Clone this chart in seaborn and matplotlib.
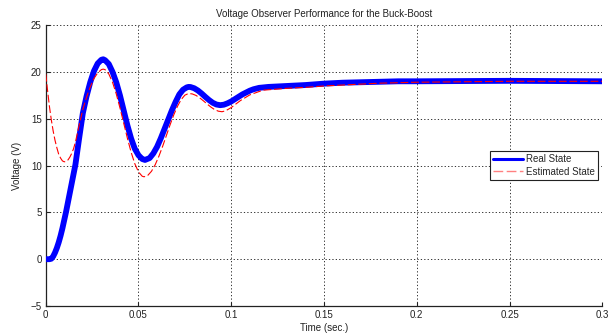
import matplotlib
matplotlib.use("Agg")
import matplotlib.pyplot as plt
import seaborn as sns
import pandas as pd

# ---- data ----
t_real = [0.000, 0.001, 0.002, 0.003, 0.004, 0.005, 0.006, 0.007, 0.008, 0.009,
          0.010, 0.011, 0.012, 0.013, 0.014, 0.015, 0.016, 0.018, 0.020, 0.022,
          0.024, 0.026, 0.028, 0.030, 0.031, 0.032, 0.034, 0.036, 0.038, 0.040,
          0.042, 0.044, 0.046, 0.048, 0.050, 0.052, 0.0535, 0.056, 0.058, 0.060,
          0.062, 0.064, 0.066, 0.068, 0.070, 0.072, 0.074, 0.076, 0.077, 0.078,
          0.080, 0.082, 0.084, 0.086, 0.088, 0.090, 0.092, 0.094, 0.096, 0.098,
          0.100, 0.102, 0.104, 0.106, 0.108, 0.110, 0.112, 0.115, 0.120, 0.130,
          0.140, 0.150, 0.160, 0.170, 0.180, 0.190, 0.200, 0.250, 0.300]
v_real = [0.0, 0.0, 0.0, 0.05, 0.3, 0.7, 1.2, 1.8, 2.5, 3.3,
          4.2, 5.1, 6.1, 7.1, 8.1, 9.1, 10.1, 12.9, 15.6, 17.4,
          18.9, 20.1, 20.9, 21.3, 21.35, 21.25, 20.84, 20.0, 18.9, 17.5,
          15.9, 14.3, 12.9, 11.8, 11.1, 10.7, 10.6, 10.8, 11.3, 12.0,
          12.9, 13.9, 14.9, 15.9, 16.8, 17.6, 18.1, 18.35, 18.4, 18.39,
          18.26, 18.02, 17.7, 17.34, 17.0, 16.71, 16.52, 16.45, 16.5, 16.65,
          16.85, 17.1, 17.35, 17.6, 17.8, 18.0, 18.15, 18.3, 18.4, 18.5,
          18.6, 18.75, 18.85, 18.9, 18.95, 19.0, 19.0, 19.05, 19.0]

t_est = [0.000, 0.001, 0.002, 0.003, 0.004, 0.005, 0.006, 0.007, 0.008, 0.009,
         0.010, 0.011, 0.012, 0.013, 0.014, 0.015, 0.016, 0.018, 0.020, 0.022,
         0.024, 0.026, 0.028, 0.030, 0.031, 0.032, 0.034, 0.036, 0.038, 0.040,
         0.042, 0.044, 0.046, 0.048, 0.050, 0.052, 0.053, 0.055, 0.057, 0.059,
         0.061, 0.063, 0.065, 0.067, 0.069, 0.071, 0.073, 0.075, 0.077, 0.079,
         0.081, 0.083, 0.085, 0.087, 0.089, 0.091, 0.093, 0.095, 0.097, 0.100,
         0.105, 0.110, 0.117, 0.130, 0.140, 0.150, 0.165, 0.180, 0.200, 0.250,
         0.300]
v_est = [19.8, 18.0, 16.3, 14.9, 13.7, 12.7, 11.9, 11.2, 10.8, 10.5,
         10.4, 10.45, 10.6, 10.9, 11.3, 11.8, 12.5, 14.3, 16.0, 17.3,
         18.4, 19.3, 19.9, 20.25, 20.3, 20.24, 19.78, 18.9, 17.66, 16.17,
         14.55, 12.93, 11.44, 10.2, 9.32, 8.86, 8.8, 8.95, 9.39, 10.09,
         11.0, 12.05, 13.19, 14.34, 15.41, 16.33, 17.05, 17.52, 17.7, 17.65,
         17.49, 17.23, 16.91, 16.57, 16.25, 15.98, 15.81, 15.75, 15.85, 16.2,
         16.95, 17.55, 18.05, 18.25, 18.35, 18.5, 18.65, 18.8, 18.9, 19.0,
         19.0]

x_ticks = [0, 0.05, 0.1, 0.15, 0.2, 0.25, 0.3]
x_ticklabels = ["0", "0.05", "0.1", "0.15", "0.2", "0.25", "0.3"]
y_ticks = [-5, 0, 5, 10, 15, 20, 25]

title = "Voltage Observer Performance for the Buck-Boost"
xlabel = "Time (sec.)"
ylabel = "Voltage (V)"
series_names = ["Real State", "Estimated State"]

df_real = pd.DataFrame({"t": t_real, "v": v_real})
df_est = pd.DataFrame({"t": t_est, "v": v_est})

sns.set_style("white")
plt.rcParams["font.family"] = ["Liberation Sans", "DejaVu Sans"]

fig = plt.figure(figsize=(6.13, 3.34), dpi=100)
ax = fig.add_axes([0.0746, 0.0838, 0.908, 0.841])

sns.lineplot(data=df_real, x="t", y="v", ax=ax, color="#0000ff", lw=4.2,
             label=series_names[0], estimator=None, zorder=3)
sns.lineplot(data=df_est, x="t", y="v", ax=ax, color="#ff0000", lw=0.8,
             linestyle=(0, (7, 2.5)), label=series_names[1], estimator=None,
             zorder=4)

ax.set_xlim(0, 0.3)
ax.set_ylim(-5, 25)
ax.set_xticks(x_ticks)
ax.set_xticklabels(x_ticklabels)
ax.set_yticks(y_ticks)
ax.tick_params(axis="both", direction="in", length=3, width=0.8, labelsize=7,
               pad=3, colors="#222222", left=True, bottom=True)

ax.grid(True, color="#333333", linestyle=(0, (1.3, 2.2)), lw=0.7)
for s in ["top", "right"]:
    ax.spines[s].set_visible(False)
for s in ["left", "bottom"]:
    ax.spines[s].set_color("#222222")
    ax.spines[s].set_linewidth(0.9)

ax.set_title(title, fontsize=7, pad=6, color="#222222")
ax.set_xlabel(xlabel, fontsize=7, labelpad=2, color="#222222")
ax.set_ylabel(ylabel, fontsize=7, labelpad=6, color="#222222")

leg = ax.legend(loc="upper right", bbox_to_anchor=(0.993, 0.553), fontsize=7,
                frameon=True, fancybox=False, framealpha=1, edgecolor="#222222",
                handlelength=3.1, handletextpad=0.3, borderpad=0.35,
                labelspacing=0.25, borderaxespad=0)
leg.get_frame().set_linewidth(0.8)
hs = leg.get_lines()
hs[0].set_linewidth(2.2)
hs[1].set_linewidth(1.0)
hs[1].set_color("#ff8080")

fig.savefig("out.png", dpi=100)
